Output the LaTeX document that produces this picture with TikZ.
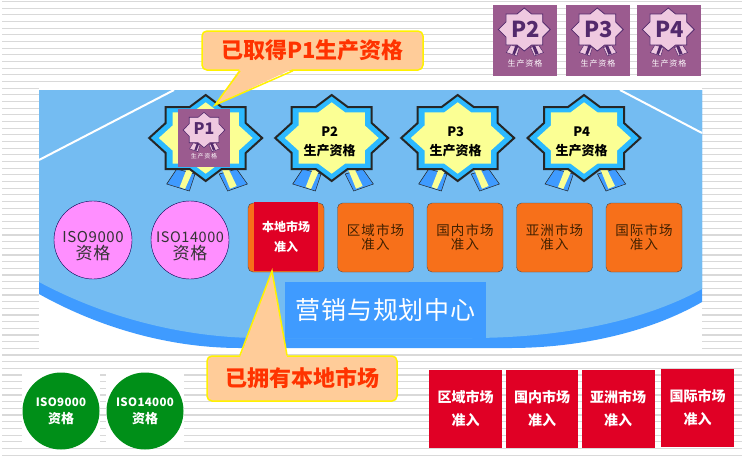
\documentclass[tikz,border=0pt]{standalone}
\usepackage{fontspec}
\setmainfont{Noto Sans CJK SC}
\usetikzlibrary{positioning}
\definecolor{fieldblue}{HTML}{74BCF2}
\definecolor{deepblue}{HTML}{3F9BFF}
\definecolor{tilepurple}{HTML}{9B5B8F}
\definecolor{darkpurple}{HTML}{532A6C}
\definecolor{palepurple}{HTML}{EFC9E0}
\definecolor{palestar}{HTML}{FBFF94}
\definecolor{peach}{HTML}{FFCC99}
\definecolor{callred}{HTML}{FF3300}
\definecolor{marketred}{HTML}{E00025}
\definecolor{orangetile}{HTML}{F7701A}
\definecolor{pinkdisc}{HTML}{FF8FFF}
\definecolor{greendisc}{HTML}{008F18}
\newcommand{\fsize}[2]{\fontsize{#1}{#2}\selectfont}
\tikzset{
    starpath/.style={
           insert path={(0,-43) -- (16,-31) -- (40,-31) -- (40,-15) -- (56.5,0)
             -- (40,15) -- (40,31) -- (16,31) -- (0,43) -- (-16,31) -- (-40,31)
             -- (-40,15) -- (-56.5,0) -- (-40,-15) -- (-40,-31) -- (-16,-31) -- cycle}
           },
    % outline, ring, inside, ribbon, ribbon strip
    pics/medal/.style n args={5}{code={
       \filldraw[draw=#1, fill=#4, line width=.5pt] (-39,46) -- (-29,31) -- (-10.7,36) -- (-16.3,53) -- cycle;
       \filldraw[draw=#1, fill=#4, line width=.5pt] (13.5,36) -- (31,31) -- (41.7,46) -- (22,53) -- cycle;
       \fill[#5] (-19,31) -- (-12.3,32) -- (-20.7,51) -- (-26,49) -- cycle;
       \fill[#5] (16.7,32) -- (22.7,30.7) -- (31,48) -- (24.3,50.7) -- cycle;
       \filldraw[draw=#1, fill=#2, starpath];
       \fill[#3, scale=.83, starpath];
    }},
    medallabel/.style={
           align=center, inner sep=0pt,
           font=\fsize{13}{19}\bfseries
           },
    tilebox/.style={
           fill=tilepurple, inner sep=0pt,
           minimum width=64pt, minimum height=71pt
           },
    tilehead/.style={
           text=darkpurple, inner sep=0pt,
           font=\fsize{22}{22}\bfseries
           },
    tilefoot/.style={
           text=white!90!palepurple, inner sep=0pt,
           font=\fsize{8}{8}\addfontfeature{LetterSpace=12}
           },
    isodisc/.style={
           circle, draw=black!70!blue, fill=pinkdisc, thin,
           minimum size=78pt, inner sep=0pt
           },
    isotext/.style={
           align=center, inner sep=0pt, text=black!80,
           font=\fsize{17}{17}\addfontfeature{LetterSpace=4}
           },
    market/.style={
           rectangle, rounded corners=5pt, draw=black!70, fill=orangetile, thin,
           minimum width=76pt, minimum height=69pt, inner sep=0pt, align=center,
           text=black!75!orange,
           font=\fsize{13.5}{14}\addfontfeature{LetterSpace=8}
           },
    gained/.style={
           fill=marketred, inner sep=0pt, align=center, text=white,
           minimum width=64pt, minimum height=69pt,
           font=\fsize{12}{20}\bfseries
           },
    greendot/.style={
           circle, fill=greendisc, minimum size=77pt, inner sep=0pt,
           align=center, text=white,
           font=\fsize{13}{17}\bfseries
           },
    redtile/.style={
           fill=marketred, inner sep=0pt, align=center, text=white,
           minimum width=73pt, minimum height=78pt,
           font=\fsize{14}{23}\bfseries
           },
    callbox/.style={
           rectangle, rounded corners=5pt, draw=yellow, fill=peach, line width=1.5pt,
           inner sep=0pt, text=callred,
           font=\fsize{22}{22}\bfseries
           },
    calltail/.style={fill=peach},
    callline/.style={draw=yellow, line width=1.5pt}
}
\begin{document}
\begin{tikzpicture}[x=1pt, y=-1pt, node distance=126pt, on grid]
   \useasboundingbox (0,0) rectangle (742,456);
   \fill[white] (0,0) rectangle (742,456);
   % stripes
   \foreach \y in {1.5,8.17,...,456}
      \draw[black!15, line width=1.1pt] (2,\y) -- (742,\y);
   \fill[white] (39,88) rectangle (702,349);
   \fill[white] (22,372) rectangle (100,446);
   \fill[white] (106,372) rectangle (184,446);
   % field
   \fill[deepblue] (39,90) -- (702,90) -- (702,302)
      .. controls (650,332) and (580,348) .. (510,348) -- (240,348)
      .. controls (170,348) and (100,328) .. (39,294) -- cycle;
   \fill[fieldblue] (39,90) -- (702,90) -- (702,289)
      .. controls (650,318) and (570,338) .. (470,338) -- (260,338)
      .. controls (190,338) and (110,320) .. (39,282) -- cycle;
   \draw[white, line width=2pt] (39,160) -- (174,90);
   \draw[white, line width=2pt] (620,90) -- (702,133);
   \node[fill=deepblue, inner sep=0pt, minimum width=201pt, minimum height=56pt,
         text=white, font=\fsize{25}{25}\addfontfeature{LetterSpace=3}] (center) at (385.5,310) {营销与规划中心};

   % medals
   \pic[line width=2pt] at (205.7,138) {medal={black!85}{deepblue!70!cyan}{palestar}{deepblue}{palestar}};
   \pic[line width=2pt] at (331.7,138) {medal={black!85}{deepblue!70!cyan}{palestar}{deepblue}{palestar}};
   \pic[line width=2pt] at (457.7,138) {medal={black!85}{deepblue!70!cyan}{palestar}{deepblue}{palestar}};
   \pic[line width=2pt] at (584,138) {medal={black!85}{deepblue!70!cyan}{palestar}{deepblue}{palestar}};
   \node[medallabel] (ptwo) at (329.7,141.5) {P2\\生产资格};
   \node[medallabel] (pthree) [right=of ptwo] {P3\\生产资格};
   \node[medallabel] (pfour) [right=of pthree] {P4\\生产资格};

   % purple tiles
   \node[tilebox] (tiletwo) at (525,40.5) {};
   \node[tilebox] (tilethree) [right=73pt of tiletwo] {};
   \node[tilebox] (tilefour) [right=71pt of tilethree] {};
   \pic[line width=.8pt, xscale=.46, yscale=.5] at (524.3,29.5) {medal={darkpurple}{palepurple}{palepurple}{palepurple}{darkpurple}};
   \pic[line width=.8pt, xscale=.46, yscale=.5] at (597.3,29.5) {medal={darkpurple}{palepurple}{palepurple}{palepurple}{darkpurple}};
   \pic[line width=.8pt, xscale=.46, yscale=.5] at (668.3,29.5) {medal={darkpurple}{palepurple}{palepurple}{palepurple}{darkpurple}};
   \node[tilehead] (headtwo) at (525.5,29) {P2};
   \node[tilehead] (headthree) [right=73pt of headtwo] {P3};
   \node[tilehead] (headfour) [right=71pt of headthree] {P4};
   \node[tilefoot] (foottwo) at (525,63) {生产资格};
   \node[tilefoot] (footthree) [right=73pt of foottwo] {生产资格};
   \node[tilefoot] (footfour) [right=71pt of footthree] {生产资格};
   \node[tilebox, minimum width=52pt, minimum height=58pt] (tileone) at (204,138) {};
   \pic[line width=.6pt, xscale=.37, yscale=.41] at (204,130) {medal={darkpurple}{palepurple}{palepurple}{palepurple}{darkpurple}};
   \node[tilehead, font=\fsize{16}{16}\bfseries] (headone) at (204,129) {P1};
   \node[tilefoot, font=\fsize{6}{6}\addfontfeature{LetterSpace=12}] (footone) at (204,156) {生产资格};

   % qualification discs
   \node[isodisc] (isoa) at (93,240) {};
   \node[isodisc] (isob) [right=97pt of isoa] {};
   \node[isotext] (isoatext) at (93,246) {{\fsize{15}{17}ISO9000}\\资格};
   \node[isotext] (isobtext) [right=97pt of isoatext] {{\fsize{14.5}{17}ISO14000}\\资格};

   % market tiles
   \node[market] (local) at (286,237.5) {};
   \node[market] (region) [right=89.5pt of local] {区域市场\\准入};
   \node[market] (home) [right=89.5pt of region] {国内市场\\准入};
   \node[market] (asia) [right=89.5pt of home] {亚洲市场\\准入};
   \node[market] (world) [right=89.5pt of asia] {国际市场\\准入};
   \node[gained] (localred) at (286,236.5) {本地市场\\准入};

   % green discs
   \node[greendot] (greena) at (61,411) {{\fsize{11.5}{17}\addfontfeature{LetterSpace=3}ISO9000}\\资格};
   \node[greendot] (greenb) [right=84pt of greena] {{\fsize{11.5}{17}\addfontfeature{LetterSpace=3}ISO14000}\\资格};

   % red tiles
   \node[redtile] (redregion) at (465.5,409) {区域市场\\准入};
   \node[redtile, minimum width=72pt] (redhome) [right=76.5pt of redregion] {国内市场\\准入};
   \node[redtile] (redasia) [right=76pt of redhome] {亚洲市场\\准入};
   \node[redtile] (redworld) at (697.5,408) {国际市场\\准入};

   % call-outs
   \node[callbox, minimum width=221pt, minimum height=39pt] (callone) at (312.5,50.5) {已取得P1生产资格};
   \coordinate (tipone) at (215,105);
   \fill[calltail] ([xshift=-72.5pt,yshift=2pt]callone.south) -- (tipone) -- ([xshift=-19.5pt,yshift=2pt]callone.south) -- cycle;
   \draw[callline] ([xshift=-72.5pt]callone.south) -- (tipone) -- ([xshift=-19.5pt]callone.south);

   \node[callbox, minimum width=190pt, minimum height=45pt] (calltwo) at (302,378.5) {已拥有本地市场};
   \coordinate (tiptwo) at (272,271);
   \fill[calltail] ([xshift=-62pt,yshift=-2pt]calltwo.north) -- (tiptwo) -- ([xshift=-15pt,yshift=-2pt]calltwo.north) -- cycle;
   \draw[callline] ([xshift=-62pt]calltwo.north) -- (tiptwo) -- ([xshift=-15pt]calltwo.north);
\end{tikzpicture}
\end{document}
